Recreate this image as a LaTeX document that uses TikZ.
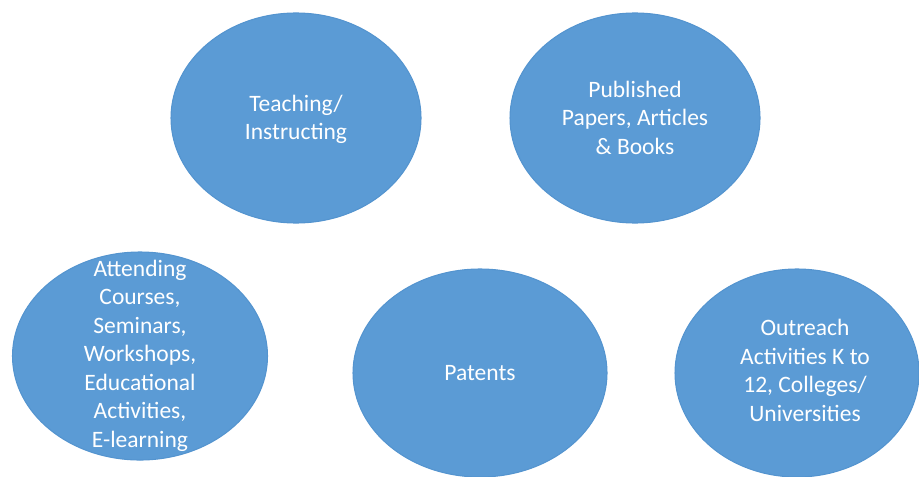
\documentclass[tikz,border=0pt]{standalone}
\usepackage{fontspec}
\setmainfont{Carlito}
\usepackage{xcolor}
\usepackage{tikz}
\usetikzlibrary{shapes,shapes.geometric}
\usetikzlibrary{positioning}

\definecolor{blobblue}{HTML}{5B9BD5}
\definecolor{blobedge}{HTML}{5494CF}

\begin{document}
\begin{tikzpicture}
    \useasboundingbox (0, 0) rectangle (9.19, 4.76);
    \tikzstyle{blob}=[ellipse, fill=blobblue, draw=blobedge, line width=0.3pt,
        inner sep=0pt, minimum width=2.5cm, minimum height=2.1cm];
    \tikzstyle{blobtext}=[text=white, inner sep=0pt,
        font=\fontsize{6.69}{8.1}\selectfont];
    \node[blob] (teach) at (2.96, 3.58) {};
    \node[blob] (publ) at (6.35, 3.58) {};
    \node[blob, minimum width=2.55cm, minimum height=2.08cm] (attend) at (1.40, 1.20) {};
    \node[blob, minimum width=2.54cm, minimum height=2.08cm] (patent) at (4.80, 1.03) {};
    \node[blob, minimum width=2.44cm, minimum height=2.08cm] (outreach) at (7.97, 1.03) {};
    \node[blobtext] (teachtxt) at ([yshift=-0.02cm]teach) {
    \begin{tabular}{c}
    Teaching/\\
    Instructing
    \end{tabular}
    };
    \node[blobtext] (publtxt) at ([yshift=-0.02cm]publ) {
    \begin{tabular}{c}
    Published\\
    Papers, Articles\\
    \& Books
    \end{tabular}
    };
    \node[blobtext] (attendtxt) at (attend) {
    \begin{tabular}{c}
    Attending\\
    Courses,\\
    Seminars,\\
    Workshops,\\
    Educational\\
    Activities,\\
    E-learning
    \end{tabular}
    };
    \node[blobtext] (patenttxt) at (patent) {Patents};
    \node[blobtext] (outreachtxt) at ([xshift=0.08cm]outreach) {
    \begin{tabular}{c}
    Outreach\\
    Activities K to\\
    12, Colleges/\\
    Universities
    \end{tabular}
    };
\end{tikzpicture}
\end{document}
